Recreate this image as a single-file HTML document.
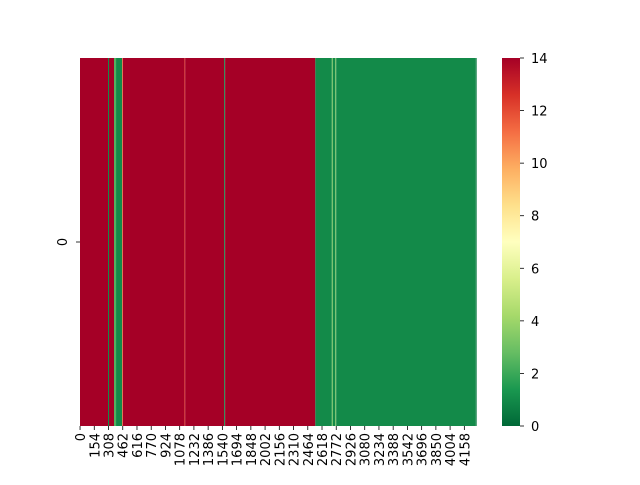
<!DOCTYPE html>
<html><head><meta charset="utf-8"><style>
body{margin:0;background:#fff}
svg text{font-family:"DejaVu Sans","Liberation Sans",sans-serif;font-size:13px;fill:#000}
</style></head><body>
<svg id="chart" width="640" height="480" xmlns="http://www.w3.org/2000/svg">
<defs><linearGradient id="cbgrad" x1="0" y1="1" x2="0" y2="0"></linearGradient></defs>
<g id="cells"></g>
<g id="xticks"></g>
<g id="yticks"></g>
<rect x="502" y="58" width="18" height="368" fill="url(#cbgrad)"/>
<g id="cbticks"></g>
</svg>
<script>
// data: runs of columns (start index, value)
const nCols = 4290;
const runStarts = [0, 303, 314, 368, 390, 455, 462, 1127, 1138, 1560, 1570, 2546, 2725, 2736, 2762, 2772, 4282];
const runValues = [14, 1.0, 14, 2.4, 1.0, 10, 14, 13, 14, 1.0, 14, 1.0, 3.3, 1.0, 3.3, 1.0, 0.5];
const xTickLabels = [0,154,308,462,616,770,924,1078,1232,1386,1540,1694,1848,2002,2156,2310,2464,2618,2772,2926,3080,3234,3388,3542,3696,3850,4004,4158];
const cbTicks = [0,2,4,6,8,10,12,14];
const vmin = 0, vmax = 14;

const stops = ["#006837","#1a9850","#66bd63","#a6d96a","#d9ef8b","#ffffbf","#fee08b","#fdae61","#f46d43","#d73027","#a50026"];
function hex(h){return [1,3,5].map(i=>parseInt(h.substr(i,2),16));}
function cmap(v){
  let t=Math.max(0,Math.min(1,(v-vmin)/(vmax-vmin)))*(stops.length-1);
  let i=Math.min(Math.floor(t),stops.length-2), f=t-i;
  let a=hex(stops[i]), b=hex(stops[i+1]);
  return "rgb("+a.map((x,k)=>Math.round(x+(b[k]-x)*f)).join(",")+")";
}
const L=80, R=476.5, T=58, B=426;
const xs = c => L + c*(R-L)/nCols;
const ys = v => B - (v-vmin)/(vmax-vmin)*(B-T);
const NS="http://www.w3.org/2000/svg";
function mk(tag, attrs, parent){const e=document.createElementNS(NS,tag);for(const k in attrs)e.setAttribute(k,attrs[k]);parent.appendChild(e);return e;}

const cells=document.getElementById('cells');
for(let i=0;i<runStarts.length;i++){
  const s=runStarts[i], e=(i+1<runStarts.length)?runStarts[i+1]:nCols;
  const r=mk('rect',{x:xs(s),y:T,width:Math.max(xs(e)-xs(s),0.9),height:B-T,fill:cmap(runValues[i])},cells);
  
  
}
const xt=document.getElementById('xticks');
xTickLabels.forEach(v=>{
  const x=xs(v+0.5);
  const l=mk('line',{x1:x,x2:x,y1:B,y2:B+4,stroke:'#000','stroke-width':0.8},xt);
  
  
  const t=mk('text',{transform:`translate(${x+5},${B+7}) rotate(-90)`,'text-anchor':'end'},xt);
  t.textContent=v;
  
  
});
const yt=document.getElementById('yticks');
mk('line',{x1:76,x2:80,y1:242,y2:242,stroke:'#000','stroke-width':0.8},yt);
const yl=mk('text',{transform:'translate(67,242) rotate(-90)','text-anchor':'middle'},yt);
yl.textContent='0';



const g=document.getElementById('cbgrad');
for(let k=0;k<=20;k++){mk('stop',{offset:k/20,'stop-color':cmap(vmin+(vmax-vmin)*k/20)},g);}
const cb=document.getElementById('cbticks');
cbTicks.forEach(v=>{
  const y=ys(v);
  mk('line',{x1:520,x2:524,y1:y,y2:y,stroke:'#000','stroke-width':0.8},cb);
  const t=mk('text',{x:531,y:y+5},cb);
  t.textContent=v;
  
  
});
</script>
</body></html>
